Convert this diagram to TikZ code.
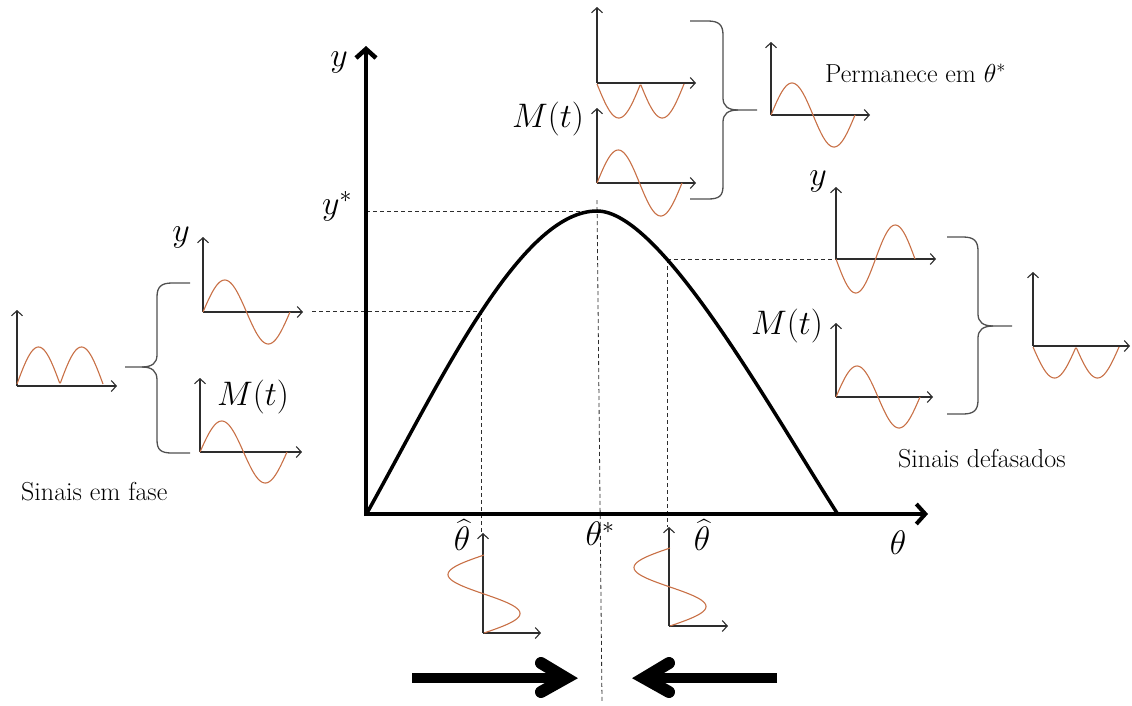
\RequirePackage{fix-cm}
\documentclass[tikz,border=0pt]{standalone}
\usepackage{amsmath}
\usetikzlibrary{arrows.meta}
\definecolor{wave}{RGB}{200,112,70}
\definecolor{axc}{RGB}{45,45,45}
\definecolor{brc}{RGB}{80,80,80}
\begin{document}
\begin{tikzpicture}[x=1pt,y=-1pt,
  ax/.style={draw=axc, line width=1.1pt, -{Straight Barb[length=5pt,width=11pt]}},
  wv/.style={draw=wave, line width=1.1pt},
  dsh/.style={draw=axc, dash pattern=on 4pt off 3pt, line width=0.8pt},
  brace/.style={draw=brc, line width=1.3pt},
  lbl/.style={font=\fontsize{34}{40}\selectfont, inner sep=0pt},
  txt/.style={font=\fontsize{26}{30}\selectfont, inner sep=0pt, anchor=base west},
  bigarrow/.style={line width=10pt},
  bighead/.style={line width=12pt, line cap=round, line join=miter}]
\useasboundingbox (0,0) rectangle (1132,705);

% key coordinates
\coordinate (O) at (366,514);
\coordinate (ytop) at (366,46);
\coordinate (xend) at (928,514);
\coordinate (peak) at (597,211);
\coordinate (pL) at (481,311);
\coordinate (pR) at (667,259);
\coordinate (cEnd) at (837,513);

% dashed guides
\draw[dsh] (O |- peak) -- (peak);
\coordinate (dTop) at (597,200);
\coordinate (dBot) at (602,702);
\draw[dsh] (dTop) -- (dBot);
\coordinate (lh) at (312,311);
\draw[dsh] (lh) -- (pL);
\coordinate (lv) at (481,532);
\draw[dsh] (pL) -- (lv);
\coordinate (rh) at (836,259);
\draw[dsh] (pR) -- (rh);
\coordinate (rv) at (667,527);
\draw[dsh] (pR) -- (rv);

% main axes
\draw[line width=4.5pt, -{Straight Barb[length=9pt,width=20pt]}] (366,516) -- (ytop);
\draw[line width=4pt, -{Straight Barb[length=9pt,width=20pt]}] (364,514) -- (xend);
% main curve
\draw[line width=3.5pt, line join=round] (367,513) .. controls (440,382) and (520,211) .. (peak)
   .. controls (660,211) and (765,400) .. (cEnd);

% ---- left group ----
% A
\draw[ax] (17,386) -- (117,386);
\draw[ax] (17,386) -- (17,310);
\draw[wv] plot[domain=0:86,samples=90] ({17+\x},{384-37*abs(sin(360*(\x/86)))});
% B
\draw[ax] (203,312) -- (303,312);
\draw[ax] (203,312) -- (203,237);
\draw[wv] plot[domain=0:87,samples=80] ({203+\x},{312-32*sin(360*(\x/87))});
% C
\draw[ax] (200,452) -- (302,452);
\draw[ax] (200,452) -- (200,378);
\draw[wv] plot[domain=0:87,samples=80] ({200+\x},{452-31*sin(360*(\x/87))});
% left brace
\draw[brace] (190,283) -- (172,283) .. controls (161,283) and (157,287) .. (157,297) -- (157,355) .. controls (157,363) and (152,367) .. (142,367) -- (125,367);
\draw[brace] (142,367) .. controls (152,367) and (157,371) .. (157,380) -- (157,440) .. controls (157,450) and (161,453) .. (172,453) -- (190,453);

% ---- top group ----
% D
\draw[ax] (597,83) -- (696,83);
\draw[ax] (597,83) -- (597,7);
\draw[wv] plot[domain=0:87,samples=90] ({597+\x},{84+34*abs(sin(360*(\x/87)))});
% E
\draw[ax] (597,183) -- (696,183);
\draw[ax] (597,183) -- (597,108);
\draw[wv] plot[domain=0:85,samples=80] ({597+\x},{183-33*sin(360*(\x/85))});
% F
\draw[ax] (771,115) -- (870,115);
\draw[ax] (771,115) -- (771,42);
\draw[wv] plot[domain=0:84,samples=80] ({771+\x},{115-32*sin(360*(\x/84))});
% top brace
\draw[brace] (690,21) -- (708,21) .. controls (719,21) and (723,25) .. (723,35) -- (723,98) .. controls (723,106) and (728,110) .. (738,110) -- (757,110);
\draw[brace] (738,110) .. controls (728,110) and (723,114) .. (723,122) -- (723,186) .. controls (723,196) and (719,199) .. (708,199) -- (690,199);

% ---- right group ----
% G
\draw[ax] (836,259) -- (936,259);
\draw[ax] (836,259) -- (836,187);
\draw[wv] plot[domain=0:79,samples=80] ({836+\x},{259+34*sin(360*(\x/79))});
% H
\draw[ax] (836,397) -- (933,397);
\draw[ax] (836,397) -- (836,323);
\draw[wv] plot[domain=0:84,samples=80] ({836+\x},{397-31*sin(360*(\x/84))});
% I
\draw[ax] (1033,346) -- (1130,346);
\draw[ax] (1033,346) -- (1033,272);
\draw[wv] plot[domain=0:86,samples=90] ({1033+\x},{347+31*abs(sin(360*(\x/86)))});
% right brace
\draw[brace] (947,237) -- (963,237) .. controls (974,237) and (978,241) .. (978,251) -- (978,314) .. controls (978,322) and (983,326) .. (993,326) -- (1012,326);
\draw[brace] (993,326) .. controls (983,326) and (978,330) .. (978,338) -- (978,400) .. controls (978,410) and (974,414) .. (963,414) -- (947,414);

% ---- bottom plots ----
% J
\draw[ax] (483,633) -- (541,633);
\draw[ax] (483,633) -- (483,533);
\draw[wv] plot[domain=0:1,samples=80] ({484-36*sin(360*\x)},{555+78*\x});
% K
\draw[ax] (669,626) -- (728,626);
\draw[ax] (669,626) -- (669,527);
\draw[wv] plot[domain=0:1,samples=80] ({670-36*sin(360*\x)},{548+78*\x});

% big arrows
\coordinate (a1s) at (412,678);
\coordinate (a1e) at (562,678);
\draw[bigarrow] (a1s) -- (a1e);
\draw[bighead] (541,663) -- (566,678) -- (541,692);
\coordinate (a2s) at (777,678);
\coordinate (a2e) at (648,678);
\draw[bigarrow] (a2s) -- (a2e);
\draw[bighead] (669,663) -- (644,678) -- (669,692);

% labels
\node[lbl] (yl) at (339,62) {$y$};
\node[lbl] (ys) at (337,206) {$y^*$};
\node[lbl] (th1) at (462,535) {$\widehat{\theta}$};
\node[lbl] (ths) at (600,534) {$\theta^*$};
\node[lbl] (th2) at (702,535) {$\widehat{\theta}$};
\node[lbl] (th) at (898,543) {$\theta$};
\node[lbl] (yB) at (181,237) {$y$};
\node[lbl] (MC) at (253,397) {$M(t)$};
\node[lbl] (MT) at (548,119) {$M(t)$};
\node[lbl] (yG) at (818,181) {$y$};
\node[lbl] (MH) at (787,326) {$M(t)$};
\node[txt] (perm) at (825,82) {Permanece em $\theta^*$};
\node[txt] (defa) at (898,467) {Sinais defasados};
\node[txt] (fase) at (21,500) {Sinais em fase};
\end{tikzpicture}
\end{document}
